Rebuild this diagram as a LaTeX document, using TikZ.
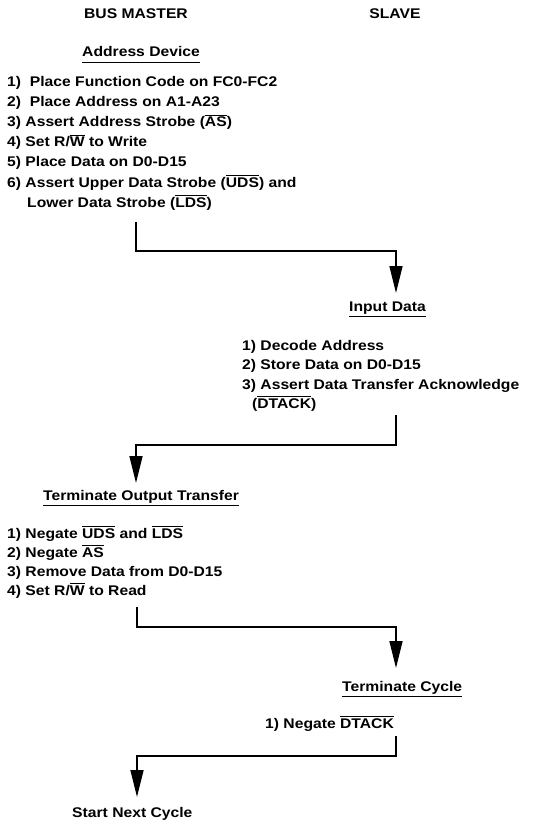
\documentclass[tikz,border=0pt]{standalone}
\usepackage{fontspec}
\setmainfont{Liberation Sans}[FakeStretch=1.12]
\usetikzlibrary{arrows.meta}
\newcommand\ovl[1]{\leavevmode\vbox{\hrule height 1.1pt\kern1.6pt\hbox{#1}}}
\begin{document}
\begin{tikzpicture}[x=1pt,y=-1pt,
  txt/.style={inner sep=0pt, anchor=base west, font=\fontsize{14}{17}\selectfont\bfseries},
  ctr/.style={txt, anchor=base},
  link/.style={line width=1.7pt, -{Triangle[length=27pt,width=13pt]}},
  uline/.style={line width=1.3pt}]
\useasboundingbox (0,0) rectangle (539,821);

% column titles
\node[ctr] (bm) at (136,19) {BUS MASTER};
\node[ctr] (sl) at (395,19) {SLAVE};

% Address Device
\node[txt] (ad) at (82,57) {Address Device};
\draw[uline] ([yshift=-5.5pt]ad.base west) -- ([yshift=-5.5pt]ad.base east);
\node[txt] (m1) at (7,87)  {1)\ \ Place Function Code on FC0-FC2};
\node[txt] (m2) at (7,107) {2)\ \ Place Address on A1-A23};
\node[txt] (m3) at (7,127) {3) Assert Address Strobe (\ovl{AS})};
\node[txt] (m4) at (7,147) {4) Set R/\ovl{W} to Write};
\node[txt] (m5) at (7,167) {5) Place Data on D0-D15};
\node[txt] (m6) at (7,187) {6) Assert Upper Data Strobe (\ovl{UDS}) and};
\node[txt] (m7) at (27,207) {Lower Data Strobe (\ovl{LDS})};

% connector 1
\coordinate (c1a) at (136,222);
\coordinate (c1b) at (396,293);
\draw[link] (c1a) -- (136,251) -| (c1b);

% Input Data
\node[txt] (id) at (349,311) {Input Data};
\draw[uline] ([yshift=-5.5pt]id.base west) -- ([yshift=-5.5pt]id.base east);
\node[txt] (s1) at (242,350)   {1) Decode Address};
\node[txt] (s2) at (242,369.5) {2) Store Data on D0-D15};
\node[txt] (s3) at (242,389)   {3) Assert Data Transfer Acknowledge};
\node[txt] (s4) at (252,408.5) {(\ovl{DTACK})};

% connector 2
\coordinate (c2a) at (396,415);
\coordinate (c2b) at (136,483);
\draw[link] (c2a) -- (396,445) -| (c2b);

% Terminate Output Transfer
\node[txt] (tot) at (43,500) {Terminate Output Transfer};
\draw[uline] ([yshift=-5.5pt]tot.base west) -- ([yshift=-5.5pt]tot.base east);
\node[txt] (t1) at (7,538) {1) Negate \ovl{UDS} and \ovl{LDS}};
\node[txt] (t2) at (7,557) {2) Negate \ovl{AS}};
\node[txt] (t3) at (7,576) {3) Remove Data from D0-D15};
\node[txt] (t4) at (7,595) {4) Set R/\ovl{W} to Read};

% connector 3
\coordinate (c3a) at (137,607);
\coordinate (c3b) at (396,668);
\draw[link] (c3a) -- (137,627) -| (c3b);

% Terminate Cycle
\node[txt] (tc) at (342,691) {Terminate Cycle};
\draw[uline] ([yshift=-5.5pt]tc.base west) -- ([yshift=-5.5pt]tc.base east);
\node[txt] (n1) at (265,728) {1) Negate \ovl{DTACK}};

% connector 4
\coordinate (c4a) at (396,736);
\coordinate (c4b) at (137,797);
\draw[link] (c4a) -- (396,756) -| (c4b);

% Start Next Cycle
\node[txt] (snc) at (72,817) {Start Next Cycle};
\end{tikzpicture}
\end{document}
